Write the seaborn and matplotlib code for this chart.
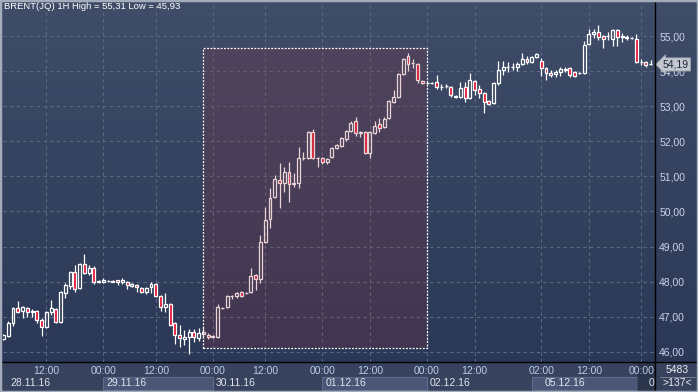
import numpy as np
import pandas as pd
import matplotlib
matplotlib.use("Agg")
import matplotlib.pyplot as plt
import matplotlib.transforms as mtransforms
from matplotlib.patches import Rectangle
import seaborn as sns

# hourly candles, BRENT(JQ) 1H, 137 bars visible
opens = [46.37, 46.45, 46.82, 47.25, 47.17, 47.25, 47.14, 47.17, 46.91, 46.71,
         47.14, 47.22, 46.85, 47.68, 47.88, 48.28, 47.82, 48.50, 48.25, 48.39,
         48.02, 47.99, 48.02, 48.02, 48.04, 47.99, 47.99, 47.88, 47.91, 47.82,
         47.71, 47.85, 47.93, 47.59, 47.28, 47.36, 46.82, 46.48, 46.37, 46.42,
         46.57, 46.40, 46.57, 46.48, 46.43, 46.42, 47.25, 47.28, 47.59, 47.59,
         47.71, 47.68, 47.71, 48.19, 48.08, 49.13, 49.79, 50.41, 50.90, 50.81,
         51.13, 50.78, 50.81, 51.52, 51.52, 52.26, 51.52, 51.52, 51.41, 51.55,
         51.81, 51.87, 52.07, 52.29, 52.58, 52.26, 52.26, 51.67, 52.24, 52.49,
         52.41, 52.66, 53.12, 53.26, 53.92, 54.43, 54.23, 54.20, 53.72, 53.66,
         53.67, 53.69, 53.55, 53.57, 53.55, 53.29, 53.26, 53.55, 53.23, 53.72,
         53.49, 53.38, 53.15, 53.09, 53.66, 54.03, 54.12, 54.13, 54.12, 54.20,
         54.34, 54.26, 54.40, 54.29, 54.09, 53.95, 53.92, 53.97, 54.03, 54.09,
         53.97, 53.94, 53.95, 54.77, 55.06, 55.11, 55.00, 54.99, 54.91, 55.17,
         54.97, 54.95, 54.95, 54.91, 54.26, 54.26, 54.19]
highs = [46.50, 46.88, 47.28, 47.45, 47.30, 47.28, 47.22, 47.20, 46.97, 47.17,
         47.48, 47.25, 47.73, 47.96, 48.31, 48.47, 48.53, 48.79, 48.47, 48.45,
         48.05, 48.10, 48.05, 48.05, 48.06, 48.10, 48.02, 47.96, 47.93, 47.85,
         47.85, 47.99, 47.96, 47.62, 47.68, 47.39, 46.85, 46.77, 46.62, 46.65,
         46.65, 46.68, 46.71, 46.54, 46.48, 47.36, 47.28, 47.62, 47.62, 47.71,
         47.73, 47.71, 48.39, 48.22, 49.33, 50.13, 50.67, 51.04, 51.38, 51.27,
         51.41, 51.10, 51.84, 51.70, 52.29, 52.35, 51.55, 51.55, 51.52, 51.84,
         51.92, 52.12, 52.32, 52.58, 52.69, 52.29, 52.29, 52.29, 52.58, 52.66,
         52.69, 53.18, 53.46, 53.95, 54.37, 54.52, 54.34, 54.23, 53.75, 53.69,
         53.69, 53.89, 53.63, 53.63, 53.58, 53.32, 53.69, 53.69, 53.95, 53.75,
         53.60, 53.40, 53.18, 53.69, 54.29, 54.29, 54.26, 54.23, 54.26, 54.52,
         54.43, 54.43, 54.52, 54.37, 54.12, 54.03, 54.03, 54.12, 54.12, 54.12,
         54.00, 53.97, 54.86, 55.20, 55.20, 55.31, 55.03, 55.11, 55.20, 55.20,
         55.09, 55.03, 54.97, 55.06, 54.34, 54.29, 54.32]
lows = [46.35, 46.42, 46.74, 47.10, 46.97, 47.00, 47.00, 46.82, 46.45, 46.68,
        47.05, 46.82, 46.82, 47.54, 47.79, 47.71, 47.79, 48.22, 48.19, 47.93,
        47.96, 47.96, 47.99, 47.99, 47.91, 47.93, 47.79, 47.85, 47.71, 47.68,
        47.65, 47.68, 47.56, 47.17, 47.14, 46.74, 46.22, 46.14, 46.20, 45.93,
        46.28, 46.31, 46.40, 46.37, 46.40, 46.40, 47.23, 47.25, 47.51, 47.54,
        47.56, 47.65, 47.68, 47.76, 47.96, 49.10, 49.53, 50.38, 50.10, 50.55,
        50.27, 50.70, 50.67, 51.47, 51.50, 51.50, 51.27, 51.35, 51.35, 51.52,
        51.78, 51.84, 52.01, 52.26, 52.15, 52.12, 51.64, 51.52, 52.21, 52.26,
        52.38, 52.63, 53.09, 53.23, 53.89, 54.00, 54.09, 53.66, 53.63, 53.63,
        53.63, 53.49, 53.46, 53.52, 53.26, 53.23, 53.23, 53.12, 53.20, 53.32,
        53.23, 52.81, 53.03, 53.06, 53.60, 53.89, 53.97, 54.03, 54.00, 54.17,
        54.20, 54.23, 54.37, 53.86, 53.75, 53.83, 53.83, 53.86, 53.97, 53.83,
        53.83, 53.92, 53.92, 54.74, 54.94, 54.89, 54.66, 54.89, 54.72, 54.72,
        54.83, 54.89, 54.91, 54.23, 54.17, 54.12, 54.17]
closes = [46.48, 46.82, 47.25, 47.14, 47.28, 47.14, 47.17, 46.91, 46.71, 47.14,
          47.25, 46.85, 47.71, 47.91, 48.28, 47.79, 48.50, 48.25, 48.39, 47.99,
          47.99, 48.05, 48.02, 48.00, 47.99, 48.05, 47.91, 47.93, 47.85, 47.71,
          47.82, 47.93, 47.59, 47.28, 47.36, 46.77, 46.48, 46.40, 46.42, 46.57,
          46.42, 46.54, 46.52, 46.42, 46.45, 47.28, 47.26, 47.59, 47.60, 47.68,
          47.59, 47.69, 48.16, 48.08, 49.13, 49.76, 50.38, 50.93, 50.81, 51.13,
          50.78, 50.80, 51.52, 51.53, 52.26, 51.52, 51.53, 51.41, 51.49, 51.81,
          51.89, 52.09, 52.29, 52.52, 52.24, 52.25, 51.67, 52.26, 52.44, 52.38,
          52.64, 53.15, 53.26, 53.92, 54.34, 54.20, 54.22, 53.75, 53.66, 53.67,
          53.66, 53.55, 53.56, 53.58, 53.32, 53.26, 53.52, 53.23, 53.75, 53.46,
          53.38, 53.12, 53.06, 53.66, 54.03, 54.12, 54.13, 54.12, 54.20, 54.34,
          54.26, 54.40, 54.49, 54.09, 53.95, 53.89, 53.97, 54.06, 54.06, 53.89,
          53.86, 53.95, 54.74, 55.06, 55.11, 54.97, 54.91, 55.00, 55.17, 54.97,
          55.00, 54.97, 54.94, 54.26, 54.25, 54.17, 54.19]

# time axis (bar index of each label)
tick_idx = [9, 21, 32, 44, 55, 67, 77, 89, 99, 113, 123, 134]
tick_labels = ["12:00", "00:00", "12:00", "00:00", "12:00", "00:00",
               "12:00", "00:00", "12:00", "02:00", "12:00", "00:00"]
date_pos = [1.4, 21.6, 44.5, 67.6, 89.6, 113.8, 135.6]
date_labels = ["28.11.16", "29.11.16", "30.11.16", "01.12.16", "02.12.16", "05.12.16", "0"]
date_boxes = [(21, 44), (67, 89), (111.1, 133.2)]

# selection rectangle (bar index / price)
sel_x = (41.9, 89.0)
sel_y = (46.11, 54.66)
last_price = 54.19

df = pd.DataFrame({"open": opens, "high": highs, "low": lows, "close": closes})
df["idx"] = np.arange(len(df))
df["up"] = df["close"] >= df["open"]
df["lo"] = df[["open", "close"]].min(axis=1)
df["hi"] = df[["open", "close"]].max(axis=1)

sns.set_theme(style="dark")
plt.rcParams['font.family'] = ['Liberation Sans', 'DejaVu Sans']
plt.rcParams['font.size'] = 7.5

W, H = 698, 392
fig = plt.figure(figsize=(W / 100, H / 100), dpi=100)

# background gradient over the whole figure
bg = fig.add_axes([0, 0, 1, 1], zorder=0)
t = np.linspace(0, 1, 256)[:, None, None]
top = np.array([63, 77, 105]) / 255
bot = np.array([41, 54, 85]) / 255
bg.imshow(top * (1 - t) + bot * t, aspect="auto", extent=[0, 1, 0, 1])
bg.add_patch(Rectangle((0, 0), 1, 30 / H, facecolor="#37425c", edgecolor="none"))
bg.set_xlim(0, 1)
bg.set_ylim(0, 1)
bg.axis("off")

left, right, bottom_px = 3, 655, 362
ax = fig.add_axes([left / W, (H - bottom_px) / H, (right - left) / W, (bottom_px - 2) / H], zorder=2)
ax.set_facecolor("none")
for s in ax.spines.values():
    s.set_visible(False)

# candles
wick_kw = dict(color="white", linewidth=0.9, zorder=3)
ax.vlines(df["idx"], df["hi"], df["high"], **wick_kw)
ax.vlines(df["idx"], df["low"], df["lo"], **wick_kw)
u = df[df["up"]]
d = df[~df["up"]]
ax.bar(u["idx"], u["hi"] - u["lo"], bottom=u["lo"], width=0.62, facecolor="none",
       edgecolor="white", linewidth=0.9, zorder=3)
ax.bar(d["idx"], d["hi"] - d["lo"], bottom=d["lo"], width=0.62, facecolor="#e3122e",
       edgecolor="white", linewidth=0.9, zorder=3)

# selection overlay
ax.add_patch(Rectangle((sel_x[0], sel_y[0]), sel_x[1] - sel_x[0], sel_y[1] - sel_y[0],
                       facecolor=(154 / 255, 42 / 255, 54 / 255, 0.2), edgecolor="none", zorder=4))
ax.add_patch(Rectangle((sel_x[0], sel_y[0]), sel_x[1] - sel_x[0], sel_y[1] - sel_y[0],
                       fill=False, edgecolor="white", linewidth=0.9, linestyle=(0, (1.5, 1.2)), zorder=5))

ax.set_xlim(-0.1, 136.9)
ax.set_ylim(45.71, 55.97)

ax.set_yticks(range(46, 56))
ax.set_yticklabels([f"{v:.2f}".replace(".", ",") for v in range(46, 56)])
ax.yaxis.tick_right()
ax.set_xticks(tick_idx)
ax.set_xticklabels(tick_labels)
ax.tick_params(axis="y", length=0, pad=3, colors="#c8d4ea", labelsize=7.5)
ax.tick_params(axis="x", length=0, pad=3, colors="#b9cbea", labelsize=7.5)
ax.grid(True, color="#5b6884", linestyle=(0, (3, 3)), linewidth=0.8)
ax.set_axisbelow(True)

# last price marker
trans = mtransforms.blended_transform_factory(ax.transAxes, ax.transData)
ax.text(1.012, last_price, "54,19", transform=trans, ha="left", va="center", color="#1e2430",
        fontsize=7.5, zorder=6, clip_on=False,
        bbox=dict(boxstyle="larrow,pad=0.15", facecolor="#c3c7cf", edgecolor="#9da3ad", linewidth=0.6))

# date band
axb = fig.add_axes([left / W, 0, (right - left) / W, 30 / H], zorder=1, sharex=ax)
axb.set_facecolor("none")
axb.set_ylim(0, 1)
axb.axis("off")
for x0, x1 in date_boxes:
    axb.add_patch(Rectangle((x0, 0.067), x1 - x0, 0.43, facecolor="#4a5676",
                            edgecolor="#5f6b88", linewidth=0.8))
axb.add_patch(Rectangle((133.2, 0), 4, 1, facecolor="#1e2638", alpha=0.45, edgecolor="none"))
for x, lab in zip(date_pos, date_labels):
    axb.text(x, 0.3, lab, ha="left", va="center", color="#dfe4ee", fontsize=7.5, clip_on=True)

# separators, frame and corner info
fig.add_artist(plt.Line2D([0, 1], [(H - bottom_px) / H] * 2, color="black", linewidth=1, zorder=7))
fig.add_artist(plt.Line2D([right / W] * 2, [0, 1], color="black", linewidth=1, zorder=7))
fig.add_artist(plt.Line2D([660 / W, 695 / W], [(H - 376.5) / H] * 2, color="#7f8aa0", linewidth=0.6, zorder=7))
fig.text(677 / W, (H - 370) / H, "5483", ha="center", va="center", color="#e8ecf4", fontsize=7.5, zorder=8)
fig.text(677 / W, (H - 383) / H, ">137<", ha="center", va="center", color="#e8ecf4", fontsize=7.5, zorder=8)
fig.text(4 / W, 1 - 2 / H, "BRENT(JQ) 1H High = 55,31 Low = 45,93", ha="left", va="top",
         color="white", fontsize=6.8, zorder=8)
fig.add_artist(Rectangle((0, 0), 1, 1, transform=fig.transFigure, fill=False,
                         edgecolor="#a4acbc", linewidth=2.5, zorder=9))

fig.savefig("out.png", dpi=100)
